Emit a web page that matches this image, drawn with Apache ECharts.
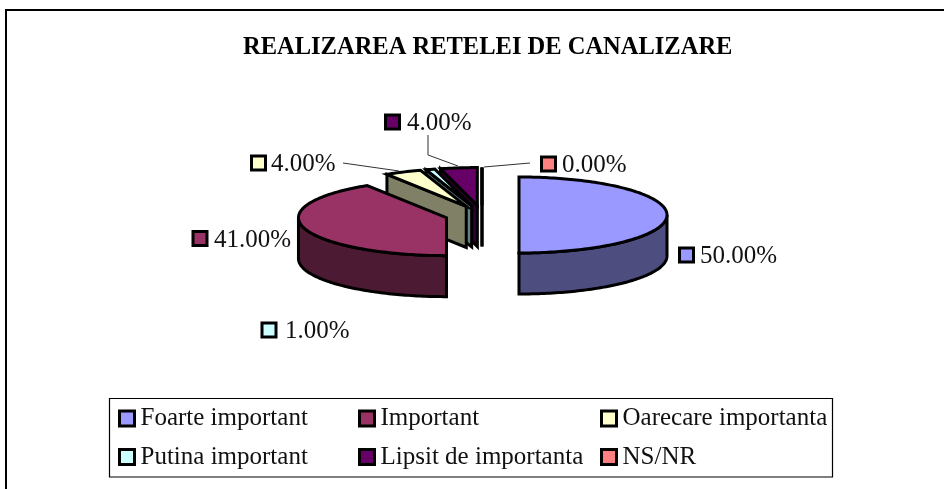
<!DOCTYPE html>
<html><head><meta charset="utf-8">
<style>html,body{margin:0;padding:0;background:#fff}#c{width:944px;height:489px}</style>
<script src="https://cdn.jsdelivr.net/npm/echarts@6/dist/echarts.min.js"></script></head>
<body><div id="c"></div>
<script>
const titleText = 'REALIZAREA RETELEI DE CANALIZARE';
const categories = ['Foarte important','Important','Oarecare importanta','Putina important','Lipsit de importanta','NS/NR'];
const values = [50,41,4,1,4,0];
const topColors = ['#9999FF','#993366','#FFFFCC','#CCFFFF','#660066','#FF8080'];
const sideColors = ['#4D4D80','#4D1A33','#808066','#668080','#330033','#804040'];
const paintOrder = [5,4,3,2,1,0];

const cx = 482, cy = 215, rx = 148, ry = 38, depth = 41, explode = 37;
const total = values.reduce((a,b)=>a+b,0);
const serif = '"Liberation Serif","Times New Roman",serif';
const edge = {stroke:'#000', lineWidth:3, lineJoin:'miter'};

const labelLayout = [
  {mx:679.5,my:255,tx:700,line:null},
  {mx:193,my:238.5,tx:214,line:null},
  {mx:251.5,my:163,tx:271,line:[[343,163],[399,171]]},
  {mx:262,my:330,tx:285,line:null},
  {mx:385.5,my:122,tx:407,line:[[428,135],[428,155],[458,166]]},
  {mx:541.5,my:164,tx:562,line:[[530,163],[484,167]]}
];
const legendLayout = [
  {x:118,y:406},{x:358,y:406},{x:600,y:406},
  {x:118,y:444.5},{x:358,y:444.5},{x:600,y:444.5}
];

function slice(i){
  let start = 0;
  for(let k=0;k<i;k++) start += values[k];
  const a0 = start/total*2*Math.PI, a1 = (start+values[i])/total*2*Math.PI, mid=(a0+a1)/2;
  const ox = cx+explode*Math.sin(mid), oy = cy-explode*Math.cos(mid)*ry/rx;
  const P = a=>[ox+rx*Math.sin(a), oy-ry*Math.cos(a)];
  const arc = [];
  const n = Math.max(2,Math.ceil((a1-a0)/0.02));
  for(let k=0;k<=n;k++) arc.push(P(a0+(a1-a0)*k/n));
  return {a0,a1,ox,oy,P,arc};
}
function down(p){return [p[0],p[1]+depth];}

function render(i){
  return function(){
    const s = slice(i), kids = [];
    const poly = (pts,fill)=>kids.push({type:'polygon',shape:{points:pts},style:Object.assign({fill},edge)});
    const apex=[s.ox,s.oy];
    if(s.a1>Math.PI){
      const pa = s.P(Math.max(s.a0,Math.PI));
      poly([apex,pa,down(pa),down(apex)],sideColors[i]);
    }
    if(values[i]===0){
      const p = s.P(s.a0);
      poly([p,apex,down(apex),down(p)],sideColors[i]);
    }
    const lo = Math.max(s.a0,Math.PI/2), hi = Math.min(s.a1,3*Math.PI/2);
    if(hi>lo){
      const pts=[];
      for(let a=lo;a<hi;a+=0.02) pts.push(s.P(a));
      pts.push(s.P(hi));
      poly(pts.concat(pts.slice().reverse().map(down)),sideColors[i]);
    }
    poly([apex].concat(s.arc),topColors[i]);
    const L = labelLayout[i];
    if(L.line) kids.push({type:'polyline',shape:{points:L.line},style:{stroke:'#333',lineWidth:1,fill:null},z2:5});
    kids.push({type:'rect',shape:{x:L.mx,y:L.my-7,width:14,height:14},style:{fill:topColors[i],stroke:'#000',lineWidth:3},z2:5});
    kids.push({type:'text',style:{x:L.tx,y:L.my+1.5,text:values[i].toFixed(2)+'%',font:'25px '+serif,fill:'#111',textVerticalAlign:'middle',textBaseline:'middle'},z2:5});
    return {type:'group',children:kids};
  };
}

const option = {
  animation:false,
  backgroundColor:'#fff',
  title:{text:titleText,left:243,top:35,
    textStyle:{fontFamily:serif,fontWeight:'bold',fontSize:24.5,color:'#000'},
    padding:0,itemGap:0},
  legend: categories.map((c,i)=>({
    data:[c], orient:'horizontal', left:legendLayout[i].x, top:legendLayout[i].y,
    itemWidth:15,itemHeight:15,itemGap:0,padding:0,selectedMode:false,
    icon:'rect',
    textStyle:{fontFamily:serif,fontSize:25,color:'#111',padding:[7,0,0,1]},
    itemStyle:{color:topColors[i],borderColor:'#000',borderWidth:3}
  })),
  graphic:[
    {type:'rect',z:-1,shape:{x:6,y:10,width:942,height:492},style:{fill:'#fff',stroke:'#000',lineWidth:2},silent:true},
    {type:'rect',z:-1,shape:{x:109.5,y:398.5,width:723,height:78.5},style:{fill:'#fff',stroke:'#000',lineWidth:1.2},silent:true}
  ],
  series: paintOrder.map(i=>({
    type:'custom',name:categories[i],coordinateSystem:'none',
    itemStyle:{color:topColors[i]},
    data:[values[i]],
    renderItem:render(i),silent:true,clip:false
  }))
};
echarts.init(document.getElementById('c'),null,{renderer:'canvas'}).setOption(option);
</script></body></html>
